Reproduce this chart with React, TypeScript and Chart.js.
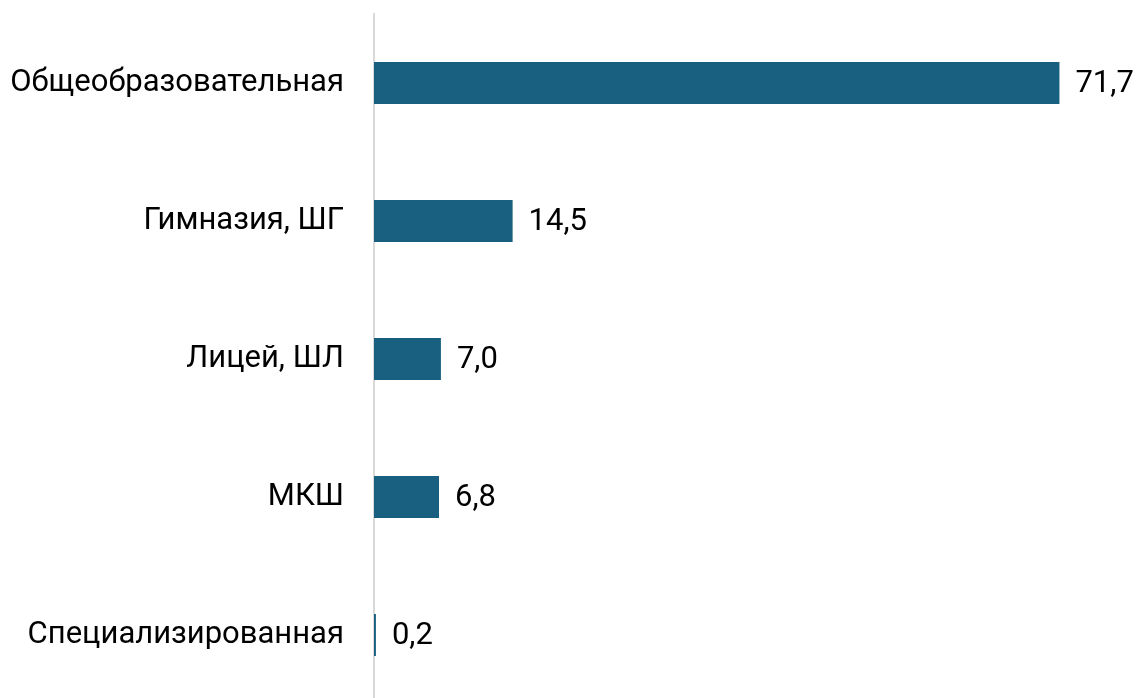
import React, { useEffect, useRef } from "react";
import { Chart, registerables } from "chart.js";

Chart.register(...registerables);

const categories = ["Общеобразовательная", "Гимназия, ШГ", "Лицей, ШЛ", "МКШ", "Специализированная"];
const values = [71.7, 14.5, 7.0, 6.8, 0.2];
const valueLabels = ["71,7", "14,5", "7,0", "6,8", "0,2"];

const FONT = "Roboto";
const FONT_SIZE = 31;

const valueLabelPlugin = {
  id: "valueLabels",
  afterDatasetsDraw(chart: any) {
    const ctx = chart.ctx;
    const meta = chart.getDatasetMeta(0);
    ctx.save();
    ctx.font = `${FONT_SIZE}px ${FONT}`;
    ctx.fillStyle = "#000000";
    ctx.textAlign = "left";
    ctx.textBaseline = "middle";
    meta.data.forEach((bar: any, i: number) => {
      ctx.fillText(valueLabels[i], bar.x + 16, bar.y + 1);
    });
    ctx.restore();
  },
};

export default function App() {
  const ref = useRef<HTMLCanvasElement | null>(null);
  useEffect(() => {
    if (!ref.current) return;
    const chart = new Chart(ref.current, {
      type: "bar",
      data: {
        labels: categories,
        datasets: [
          {
            data: values,
            backgroundColor: "#195f7f",
            borderWidth: 0,
            barPercentage: 0.61,
            categoryPercentage: 0.5,
          },
        ],
      },
      options: {
        indexAxis: "y",
        responsive: false,
        animation: false,
        layout: { padding: { top: 6, bottom: 4, right: 42, left: 0 } },
        plugins: { legend: { display: false }, tooltip: { enabled: false } },
        scales: {
          x: { display: false, min: 0, max: 75 },
          y: {
            grid: { display: false, drawTicks: false },
            border: { display: true, color: "#d9d9d9", width: 2 },
            ticks: {
              color: "#000000",
              padding: 30,
              font: { family: FONT, size: FONT_SIZE },
            },
            afterFit: (scale: any) => {
              scale.width = 366;
              scale.paddingTop = 0;
              scale.paddingBottom = 0;
            },
          },
        },
      },
      plugins: [valueLabelPlugin],
    });
    return () => chart.destroy();
  }, []);
  return (
    <div style={{ width: 1125, height: 700 }}>
      <canvas ref={ref} width={1125} height={700} style={{ display: "block" }} />
    </div>
  );
}
